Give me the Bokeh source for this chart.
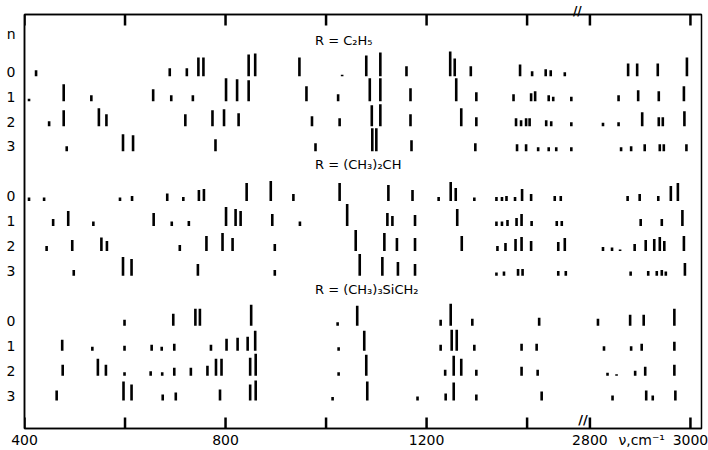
import numpy as np
from bokeh.plotting import figure
from bokeh.models import Range1d, FixedTicker, LinearAxis, Label, ColumnDataSource
from bokeh.embed import file_html
from bokeh.resources import INLINE

# ---------------- data: band positions (cm-1) and relative intensities ----------------
compound_labels = ["R = C\u2082H\u2085", "R = (CH\u2083)\u2082CH", "R = (CH\u2083)\u2083SiCH\u2082"]
n_levels = [0, 1, 2, 3]

ethyl_n0_nu = [423, 689, 723, 746, 756, 846, 859, 947, 1032, 1080, 1108, 1160, 1247, 1256, 1288, 1386, 1410, 1437, 1447, 1475, 2876, 2894, 2935, 2993]
ethyl_n0_int = [6, 8, 8, 19, 19, 22, 23, 19, 1.5, 21, 24, 10, 25, 18, 10, 12, 5, 7, 6, 4, 13, 13, 13, 19]
ethyl_n1_nu = [409, 478, 533, 656, 692, 735, 801, 823, 846, 961, 1024, 1087, 1108, 1168, 1259, 1299, 1373, 1408, 1416, 1443, 1452, 1488, 2857, 2896, 2937, 2987]
ethyl_n1_int = [2.5, 17, 6, 12, 6, 6, 23, 22, 21, 15, 7, 23, 23, 13, 23, 9, 7, 8, 10, 6, 4.5, 4.5, 6, 11, 10, 15]
ethyl_n2_nu = [449, 478, 548, 563, 720, 774, 797, 826, 972, 1027, 1091, 1108, 1168, 1269, 1299, 1378, 1388, 1398, 1405, 1438, 1448, 1488, 2826, 2857, 2904, 2937, 2945, 2988]
ethyl_n2_int = [5, 16, 18, 12, 12, 16, 17, 13, 10, 8, 21, 22, 12, 18, 9, 8, 6, 8, 8, 6, 5, 4, 3.5, 4, 14, 9, 9, 15]
ethyl_n3_nu = [484, 596, 616, 780, 979, 1092, 1100, 1170, 1297, 1380, 1398, 1422, 1443, 1458, 1488, 2862, 2882, 2909, 2939, 2947, 2992]
ethyl_n3_int = [5, 17, 16, 12, 8, 23, 23, 11, 8, 7, 7, 4, 4, 4, 4, 4, 5, 7, 7, 7, 7]

iso_n0_nu = [409, 439, 590, 614, 684, 716, 747, 757, 842, 890, 935, 1027, 1124, 1172, 1224, 1248, 1258, 1295, 1339, 1350, 1359, 1376, 1390, 1408, 1455, 1467, 2875, 2899, 2936, 2961, 2975]
iso_n0_int = [3.5, 3.5, 3.5, 5, 7.5, 4, 11, 12, 18, 20, 7, 18, 16, 11, 4, 19, 13, 3.5, 4, 4, 5, 4, 12, 7, 5, 5, 5, 7, 5, 15, 18]
iso_n1_nu = [457, 487, 537, 657, 693, 727, 801, 820, 830, 893, 948, 1042, 1122, 1132, 1177, 1261, 1339, 1350, 1361, 1379, 1389, 1409, 1459, 1469, 2901, 2943, 2984]
iso_n1_int = [7, 15, 4.5, 13, 4.5, 5, 19, 17, 15, 12, 4.5, 22, 13, 10, 11, 17, 4.5, 4.5, 6, 8, 12, 5, 5, 5, 7, 7, 16]
iso_n2_nu = [444, 495, 553, 564, 709, 762, 794, 814, 898, 1059, 1116, 1141, 1177, 1270, 1341, 1357, 1377, 1389, 1408, 1462, 1475, 2826, 2844, 2860, 2889, 2911, 2928, 2939, 2948, 2987]
iso_n2_int = [5, 11, 13.5, 10, 6, 15, 18, 13, 7, 21, 18, 13, 13, 15, 5, 8, 12, 14, 10, 9, 13, 4, 3.5, 1.5, 7, 11, 12, 14, 10, 15]
iso_n3_nu = [498, 596, 613, 745, 898, 1067, 1112, 1143, 1177, 1339, 1354, 1382, 1391, 1462, 1477, 2881, 2916, 2933, 2943, 2951, 2989]
iso_n3_int = [6, 19, 17, 12, 6, 22, 19, 14, 12, 3.5, 4.5, 7, 7, 5, 5, 4.5, 5, 5, 6, 4.5, 13]

tms_n0_nu = [599, 696, 740, 749, 851, 1023, 1062, 1228, 1248, 1291, 1424, 2816, 2880, 2907, 2968]
tms_n0_int = [6, 12, 17, 17, 21, 3.5, 20, 6, 22, 7, 8, 7, 11, 11, 17]
tms_n1_nu = [475, 535, 599, 653, 673, 698, 771, 802, 824, 844, 859, 1025, 1076, 1228, 1250, 1260, 1295, 1389, 1419, 2828, 2882, 2903, 2968]
tms_n1_int = [11, 4, 5, 6, 4, 7, 6, 12, 13, 14, 20, 3.5, 20, 6, 21, 21, 6, 7, 7, 4.5, 4.5, 7, 9]
tms_n2_nu = [476, 546, 562, 599, 651, 674, 698, 731, 764, 781, 792, 849, 860, 1025, 1080, 1237, 1254, 1269, 1299, 1389, 1421, 2835, 2853, 2890, 2910, 2968]
tms_n2_int = [11, 17, 11, 3.5, 4.5, 3.5, 8, 8, 10, 17, 17, 18, 22, 3.5, 21, 6, 20, 17, 6, 9, 6, 3, 1.5, 5, 9, 11]
tms_n3_nu = [464, 597, 613, 675, 701, 789, 849, 860, 1013, 1082, 1182, 1238, 1254, 1299, 1429, 2845, 2912, 2925, 2970]
tms_n3_int = [10, 19, 16, 6, 8, 11, 16, 20, 3.5, 19, 4, 7, 18, 6, 9, 5, 10, 5, 10]

tick_nu = [400, 600, 800, 1000, 1200, 1400, 2800, 3000]
labelled_nu = [400, 800, 1200, 2800, 3000]
UNIT_TEXT = "\u03bd,cm\u207b\u00b9"
UNIT_AT_NU = 2903          # where the unit text sits along the axis

series = [
    (0, [(ethyl_n0_nu, ethyl_n0_int), (ethyl_n1_nu, ethyl_n1_int), (ethyl_n2_nu, ethyl_n2_int), (ethyl_n3_nu, ethyl_n3_int)]),
    (1, [(iso_n0_nu, iso_n0_int), (iso_n1_nu, iso_n1_int), (iso_n2_nu, iso_n2_int), (iso_n3_nu, iso_n3_int)]),
    (2, [(tms_n0_nu, tms_n0_int), (tms_n1_nu, tms_n1_int), (tms_n2_nu, tms_n2_int), (tms_n3_nu, tms_n3_int)]),
]

# ---------------- broken wavenumber axis ----------------
BREAK_LOW = 1500     # last value of the low-frequency part
SHIFT = 1275         # values above the break are moved left by this amount


def to_axis(nu):
    nu = np.asarray(nu, dtype=float)
    return np.where(nu > BREAK_LOW, nu - SHIFT, nu)


ROWS_PER_GROUP = 5          # 4 rows + one free row for the heading
INT_PER_ROW = 25.0          # intensity units that fill one row spacing
PX_PER_ROW = 25.0           # screen pixels per row spacing
TICK_PX = 11                # inward tick length
X_START, X_END = 400, 1747
Y_TOP, Y_BOTTOM = -2.48, 14.12
INK = "#000000"
FONT = "DejaVu Sans"

p = figure(width=708, height=450, output_backend="svg", toolbar_location=None,
           x_range=Range1d(X_START, X_END), y_range=Range1d(Y_BOTTOM, Y_TOP),
           min_border_left=24, min_border_right=7, min_border_top=13, min_border_bottom=22)
p.grid.visible = False
p.background_fill_color = "white"
p.border_fill_color = "white"
p.outline_line_color = INK
p.outline_line_width = 1.5

# sticks
x0, y0, y1 = [], [], []
for g, rows in series:
    for n, (nu, inten) in zip(n_levels, rows):
        base = g * ROWS_PER_GROUP + n
        xs = to_axis(nu)
        for xv, iv in zip(xs, inten):
            x0.append(xv)
            y0.append(base)
            y1.append(base - iv / INT_PER_ROW)
src = ColumnDataSource(dict(x=x0, y0=y0, y1=y1))
p.segment(x0="x", y0="y0", x1="x", y1="y1", source=src, line_width=2.6,
          line_color=INK, line_cap="butt")

# inward tick marks on the lower and upper frame edges, at the axis tick values
tick_pos = [float(v) for v in to_axis(tick_nu)]
tick_len = TICK_PX / PX_PER_ROW
tx = list(tick_pos) + list(tick_pos)
ty0 = [Y_BOTTOM] * len(tick_pos) + [Y_TOP] * len(tick_pos)
ty1 = [Y_BOTTOM - tick_len] * len(tick_pos) + [Y_TOP + tick_len] * len(tick_pos)
p.segment(x0=tx, y0=ty0, x1=list(tx), y1=ty1, line_width=2.5, line_color="#000000")

# x axes: texts sit on (invisible) major ticks
label_pos = [float(v) for v in to_axis(labelled_nu)]
unit_pos = float(to_axis([UNIT_AT_NU])[0])
break_pos = float(BREAK_LOW)

bottom_over = {pos: str(nu) for nu, pos in zip(labelled_nu, label_pos)}
bottom_over[unit_pos] = UNIT_TEXT

xa = p.xaxis[0]
xa.ticker = FixedTicker(ticks=label_pos + [unit_pos])
xa.major_label_overrides = bottom_over
xa.major_tick_line_color = None
xa.major_tick_in = 0
xa.major_tick_out = 0
xa.minor_tick_line_color = None
xa.axis_line_color = INK
xa.axis_line_width = 1.5
xa.major_label_text_font = FONT
xa.major_label_text_font_size = "14px"
xa.major_label_text_color = INK
xa.major_label_standoff = 3

top = LinearAxis(ticker=FixedTicker(ticks=[break_pos]),
                 major_label_overrides={break_pos: "//"},
                 major_tick_line_color=None, major_tick_in=0, major_tick_out=0,
                 minor_tick_line_color=None, axis_line_color=INK, axis_line_width=1.5,
                 major_label_text_font=FONT, major_label_text_font_size="12px",
                 major_label_text_font_style="bold", major_label_text_color=INK,
                 major_label_standoff=-3)
p.add_layout(top, "above")

# y axis: row numbers n
ytick = [-1.6875]
ylab = {-1.6875: "n"}
for g in range(3):
    for n in n_levels:
        pos = g * ROWS_PER_GROUP + n - 0.1875
        ytick.append(pos)
        ylab[pos] = str(n)
ya = p.yaxis[0]
ya.ticker = FixedTicker(ticks=ytick)
ya.major_label_overrides = ylab
ya.major_tick_in = 0
ya.major_tick_out = 0
ya.major_tick_line_color = None
ya.minor_tick_line_color = None
ya.axis_line_color = INK
ya.axis_line_width = 1.5
ya.major_label_text_font = FONT
ya.major_label_text_font_size = "14px"
ya.major_label_text_color = INK
ya.major_label_standoff = 9

# group headings
for g, text in enumerate(compound_labels):
    p.add_layout(Label(x=978, y=g * ROWS_PER_GROUP - 1.45, text=text, text_font=FONT,
                       text_font_size="13px", text_color=INK, text_align="left",
                       text_baseline="middle"))

# lower axis break mark (inside the frame, just above the axis line)
p.add_layout(Label(x=BREAK_LOW + 11, y=Y_BOTTOM - 0.05, text="//", text_font=FONT,
                   text_font_size="13px", text_font_style="bold", text_color=INK,
                   text_align="center", text_baseline="bottom"))

open("out.html", "w").write(file_html(p, INLINE))
